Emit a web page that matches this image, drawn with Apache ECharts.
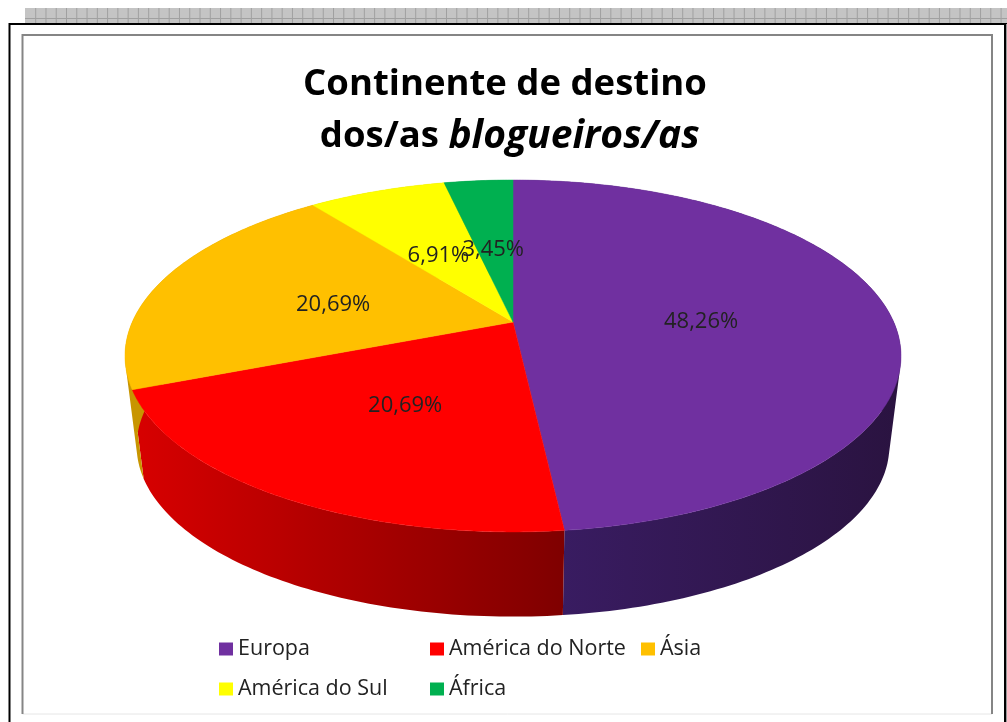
<!DOCTYPE html>
<html><head><meta charset="utf-8">
<style>html,body{margin:0;padding:0;background:#fff;overflow:hidden}#c{width:1007px;height:722px}</style>
<script src="https://cdn.jsdelivr.net/npm/echarts@6/dist/echarts.min.js"></script>
</head><body><div id="c"></div>
<script>
// ---- data ----
var categories = ['Europa', 'América do Norte', 'Ásia', 'América do Sul', 'África'];
var percents = [48.26, 20.69, 20.69, 6.91, 3.45];
var titleLine1 = 'Continente de destino';
var titleLine2a = ' dos/as ';
var titleLine2b = 'blogueiros/as';
// ---- styles ----
var faceColors = ['#7030A0', '#FF0000', '#FFC000', '#FFFF00', '#00B050'];
var sideFrom = ['#3b1d66', '#d80000', '#c89500', '#c8c800', '#008a3e'];
var sideTo = ['#2a1340', '#7f0000', '#c89500', '#c8c800', '#008a3e'];
var legendLeft = [219, 430, 641, 219, 430];
var legendTop = [638, 638, 638, 678, 678];
var FONT = 'Open Sans';
// ---- perspective pie geometry ----
var APEX_X = 513, APEX_Y = 322, HALF_W = 380.7, HALF_H = 169.4, PERSP = 0.193;
var BASE_SCALE = 0.97, BASE_APEX_Y = 413;
function project(deg, r, scale, apexY) {
  var a = deg * Math.PI / 180, u = r * Math.sin(a), v = r * Math.cos(a), d = 1 + PERSP * v;
  return [APEX_X + scale * HALF_W * u / d, apexY - scale * HALF_H * v / d];
}
var total = percents.reduce(function (s, v) { return s + v; }, 0);
function startAngle(idx) {
  var s = 0;
  for (var i = 0; i < idx; i++) s += percents[i];
  return s / total * 360;
}
function quadPath(p) {
  var area = 0;
  for (var i = 0; i < 4; i++) {
    var q = p[(i + 1) % 4];
    area += p[i][0] * q[1] - q[0] * p[i][1];
  }
  var pts = area < 0 ? p.slice().reverse() : p;
  return 'M' + pts.map(function (c) { return c[0].toFixed(2) + ' ' + c[1].toFixed(2); }).join('L') + 'Z';
}
function makeRender(idx) {
  return function (params, api) {
    var value = api.value(0);
    var a0 = startAngle(idx), a1 = a0 + value / total * 360;
    var children = [], n = Math.max(2, Math.ceil(a1 - a0)), i;
    // side wall: one compound path of ruled quads between top rim and base rim
    var xs = [], d = '';
    for (i = 0; i <= n; i++) xs.push(project(a0 + (a1 - a0) * i / n, 1, 1, APEX_Y)[0]);
    var xmin = Math.min.apply(null, xs), xmax = Math.max.apply(null, xs);
    for (i = 0; i < n; i++) {
      var d0 = a0 + (a1 - a0) * i / n, d1 = a0 + (a1 - a0) * (i + 1) / n;
      d += quadPath([
        project(d0, 1, 1, APEX_Y), project(d1, 1, 1, APEX_Y),
        project(d1, 1, BASE_SCALE, BASE_APEX_Y), project(d0, 1, BASE_SCALE, BASE_APEX_Y)
      ]);
    }
    children.push({
      type: 'path', z2: 1, silent: true,
      shape: { pathData: d },
      style: {
        fill: new echarts.graphic.LinearGradient(xmin, 0, xmax, 0, [
          { offset: 0, color: sideFrom[idx] }, { offset: 1, color: sideTo[idx] }
        ], true)
      }
    });
    // top face
    var pts = [[APEX_X, APEX_Y]];
    var m = Math.max(4, Math.ceil((a1 - a0) * 2));
    for (i = 0; i <= m; i++) pts.push(project(a0 + (a1 - a0) * i / m, 1, 1, APEX_Y));
    children.push({
      type: 'polygon', z2: 5, silent: true,
      shape: { points: pts },
      style: { fill: faceColors[idx], stroke: faceColors[idx], lineWidth: 0.5 }
    });
    // value label at half radius
    var lp = project((a0 + a1) / 2, 0.5, 1, APEX_Y);
    children.push({
      type: 'text', z2: 10, silent: true,
      x: lp[0] - 1, y: lp[1] + 4.5,
      style: {
        text: value.toFixed(2).replace('.', ',') + '%',
        fill: '#222', font: '22px "' + FONT + '"',
        align: 'center', verticalAlign: 'middle'
      }
    });
    return { type: 'group', children: children };
  };
}
// ---- page frame decoration ----
var decor = [
  { type: 'rect', shape: { x: 25, y: 8, width: 982, height: 15 }, style: { fill: '#c4c4c4' }, z: 0 },
  { type: 'line', shape: { x1: 25, y1: 18.5, x2: 1007, y2: 18.5 }, style: { stroke: '#a0a0a0', lineWidth: 1 }, z: 0 },
  { type: 'rect', shape: { x: 9.5, y: 24, width: 1069, height: 720 }, style: { fill: '#fff', stroke: '#000', lineWidth: 2 }, z: 0 },
  { type: 'rect', shape: { x: 22.5, y: 35, width: 969.5, height: 679 }, style: { fill: '#fff', stroke: '#e6e6e6', lineWidth: 1 }, z: 0 },
  { type: 'polyline', shape: { points: [[22.5, 714], [22.5, 35], [992, 35], [992, 714]] }, style: { fill: null, stroke: '#858585', lineWidth: 2 }, z: 0 },
  { type: 'line', shape: { x1: 1005, y1: 24, x2: 1005, y2: 722 }, style: { stroke: '#000', lineWidth: 2 }, z: 0 },
  { type: 'rect', shape: { x: 1006, y: 24, width: 1, height: 698 }, style: { fill: '#999' }, z: 0 }
];
for (var gx = 35.7; gx < 1007; gx += 10.27) {
  decor.push({ type: 'line', shape: { x1: gx, y1: 8, x2: gx, y2: 23 }, style: { stroke: '#a0a0a0', lineWidth: 1 }, z: 0 });
}
var chart = echarts.init(document.getElementById('c'), null, { renderer: 'canvas' });
chart.setOption({
  animation: false,
  backgroundColor: '#fff',
  title: {
    text: '{a|' + titleLine1 + '}\n{a|' + titleLine2a + '}{i|' + titleLine2b + '}',
    left: 500, top: 54, textAlign: 'center',
    textStyle: {
      rich: {
        a: { fontFamily: FONT, fontWeight: 'bold', fontSize: 36.5, lineHeight: 52, color: '#000' },
        i: { fontFamily: FONT, fontWeight: 'bold', fontStyle: 'italic', fontSize: 39, lineHeight: 52, color: '#000' }
      }
    }
  },
  graphic: { elements: decor },
  legend: categories.map(function (name, i) {
    return {
      data: [name], left: legendLeft[i], top: legendTop[i], padding: 0,
      itemWidth: 14, itemHeight: 13, itemGap: 0, selectedMode: false, icon: 'rect',
      textStyle: { fontFamily: FONT, fontSize: 21.5, color: '#222' }
    };
  }),
  series: categories.map(function (name, i) {
    return {
      type: 'custom', name: name, coordinateSystem: 'none', silent: true,
      itemStyle: { color: faceColors[i] },
      data: [[percents[i]]],
      renderItem: makeRender(i)
    };
  })
});
</script></body></html>
